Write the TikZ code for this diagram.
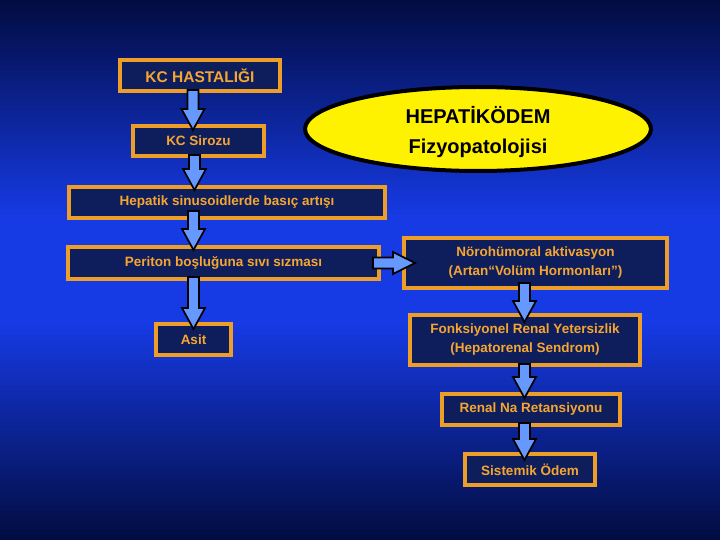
\documentclass[tikz,border=0pt]{standalone}
\usepackage{fontspec}
\setmainfont{Liberation Sans}
\usetikzlibrary{shapes.geometric,calc}
\definecolor{bgtop}{RGB}{1,12,64}
\definecolor{bgmid}{RGB}{22,58,228}
\definecolor{boxfill}{RGB}{14,30,92}
\definecolor{boxline}{RGB}{236,158,40}
\definecolor{boxtext}{RGB}{246,166,48}
\definecolor{arrowfill}{RGB}{102,153,255}
\tikzset{
  flowbox/.style={draw=boxline, line width=4pt, fill=boxfill, text=boxtext,
    font=\bfseries\fontsize{13.5}{19}\selectfont, align=center, inner sep=0pt},
  blockarrowsty/.style={draw=black, line width=1.7pt, fill=arrowfill, line join=miter},
}
\newcommand\blkdown[2]{%
  \draw[blockarrowsty] ($(#1)+(-5.5,0)$) -- ($(#2)+(-5.5,-21)$) -- ($(#2)+(-11.5,-21)$) -- (#2)
    -- ($(#2)+(11.5,-21)$) -- ($(#2)+(5.5,-21)$) -- ($(#1)+(5.5,0)$) -- cycle;}
\newcommand\blkright[2]{%
  \draw[blockarrowsty] ($(#1)+(0,-5.5)$) -- ($(#2)+(-22,-5.5)$) -- ($(#2)+(-22,-11)$) -- (#2)
    -- ($(#2)+(-22,11)$) -- ($(#2)+(-22,5.5)$) -- ($(#1)+(0,5.5)$) -- cycle;}
\begin{document}
\begin{tikzpicture}[x=1pt,y=-1pt]
\useasboundingbox (0,0) rectangle (720,540);
\foreach \i in {0,...,107}{
  \pgfmathsetmacro\tt{min(100,125*(1-abs(\i*5+2.5-270)/270))}
  \fill[bgmid!\tt!bgtop] (0,\i*5) rectangle (720,\i*5+5.6);
}

\node[flowbox, minimum width=160pt, minimum height=31pt, font=\bfseries\fontsize{15.5}{19}\selectfont] (hast) at (200,75.5) {KC HASTALIĞI};
\node[flowbox, minimum width=131pt, minimum height=30pt] (siro) at (198.5,141) {KC Sirozu};
\node[flowbox, minimum width=316pt, minimum height=31pt] (hep) at (227,202.5) {Hepatik sinusoidlerde basıç artışı};
\node[flowbox, minimum width=311pt, minimum height=32pt] (per) at (223.5,263) {Periton boşluğuna sıvı sızması};
\node[flowbox, minimum width=75pt, minimum height=31pt] (asit) at (193.5,339.5) {Asit};
\node[flowbox, minimum width=263pt, minimum height=50pt] (noro) at (535.5,263) {Nörohümoral aktivasyon\\(Artan“Volüm Hormonları”)};
\node[flowbox, minimum width=230pt, minimum height=50pt] (fonk) at (525,340) {Fonksiyonel Renal Yetersizlik\\(Hepatorenal Sendrom)};
\node[flowbox, minimum width=178pt, minimum height=31pt] (renal) at (531,409.5) {Renal Na Retansiyonu};
\node[flowbox, minimum width=130pt, minimum height=31pt] (sist) at (530,469.5) {Sistemik Ödem};

\node[ellipse, draw=black, line width=4pt, fill=yellow, minimum width=346pt, minimum height=84pt,
  inner sep=0pt, align=center, font=\bfseries\fontsize{20}{30}\selectfont] (ell) at (478,129)
  {\rule{0pt}{24pt}HEPATİKÖDEM\\Fizyopatolojisi};

\coordinate (a1s) at ($(hast.south)+(-7,-3)$);
\coordinate (a1e) at ($(siro.north)+(-5.5,6)$);
\coordinate (a2s) at ($(siro.south)+(-4,-3)$);
\coordinate (a2e) at ($(hep.north)+(-32.5,5)$);
\coordinate (a3s) at ($(hep.south)+(-33.5,-9)$);
\coordinate (a3e) at ($(per.north)+(-30,5)$);
\coordinate (a4s) at ($(per.south)+(-30,-4)$);
\coordinate (a4e) at ($(asit.north)+(0,7)$);
\coordinate (a5s) at ($(per.east)+(-8,0)$);
\coordinate (a5e) at ($(noro.west)+(13,0)$);
\coordinate (a6s) at ($(noro.south)+(-11,-7)$);
\coordinate (a6e) at ($(fonk.north)+(-0.5,9)$);
\coordinate (a7s) at ($(fonk.south)+(-0.5,-3)$);
\coordinate (a7e) at ($(renal.north)+(-6.5,6)$);
\coordinate (a8s) at ($(renal.south)+(-6.5,-4)$);
\coordinate (a8e) at ($(sist.north)+(-5.5,8)$);

\blkdown{a1s}{a1e}
\blkdown{a2s}{a2e}
\blkdown{a3s}{a3e}
\blkdown{a4s}{a4e}
\blkright{a5s}{a5e}
\blkdown{a6s}{a6e}
\blkdown{a7s}{a7e}
\blkdown{a8s}{a8e}
\end{tikzpicture}
\end{document}
